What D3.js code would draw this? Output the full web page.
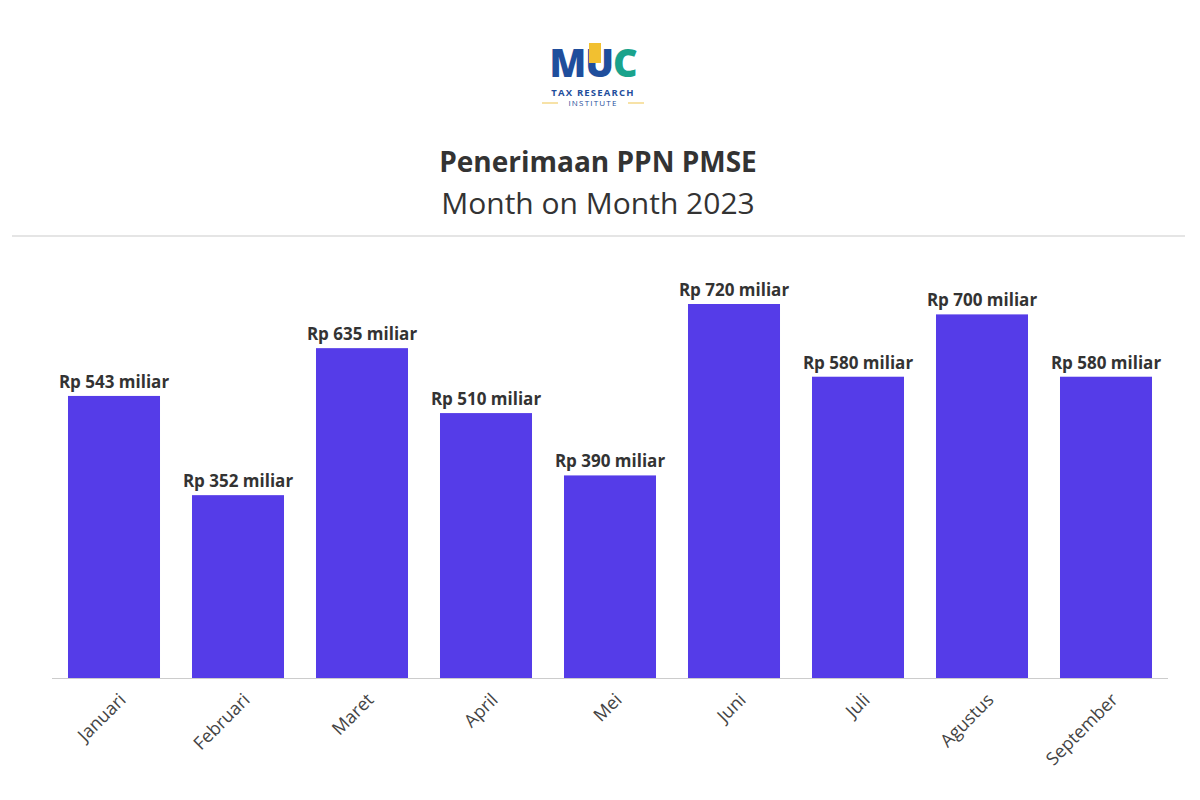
<!DOCTYPE html><html><head><meta charset="utf-8">
<script src="https://cdn.jsdelivr.net/npm/d3@7"></script>
<style>body{margin:0;background:#fff}text{font-family:"Source Sans Pro","Open Sans",Lato,sans-serif}</style></head><body>
<svg id="c" width="1200" height="800"></svg>
<script>
const months=["Januari","Februari","Maret","April","Mei","Juni","Juli","Agustus","September"];
const values=[543,352,635,510,390,720,580,700,580];
const labels=["Rp 543 miliar","Rp 352 miliar","Rp 635 miliar","Rp 510 miliar","Rp 390 miliar","Rp 720 miliar","Rp 580 miliar","Rp 700 miliar","Rp 580 miliar"];
const svg=d3.select("#c");
// logo
const g=svg.append("g");
const t=g.append("text").attr("x",593).attr("y",77).attr("text-anchor","middle").attr("font-size",38).attr("font-weight",900).attr("font-family","Lato").attr("letter-spacing",-1);
t.append("tspan").attr("fill","#1f4e9c").text("MU");
t.append("tspan").attr("fill","#1aa38c").text("C");
g.append("rect").attr("x",589).attr("y",43).attr("width",12).attr("height",20).attr("fill","#f2c030");
g.append("text").attr("x",593).attr("y",96).attr("text-anchor","middle").attr("font-size",9.5).attr("font-weight",700).attr("fill","#1f4e9c").attr("letter-spacing",1.2).text("TAX RESEARCH");
g.append("text").attr("x",593).attr("y",106).attr("text-anchor","middle").attr("font-size",8).attr("fill","#1f4e9c").attr("letter-spacing",1.2).text("INSTITUTE");
g.append("line").attr("x1",542).attr("x2",558).attr("y1",103).attr("y2",103).attr("stroke","#f5d98a").attr("stroke-width",1.5);
g.append("line").attr("x1",628).attr("x2",644).attr("y1",103).attr("y2",103).attr("stroke","#f5d98a").attr("stroke-width",1.5);
svg.append("text").attr("x",598).attr("y",172).attr("text-anchor","middle").attr("font-size",28).attr("font-weight",700).attr("fill","#333").text("Penerimaan PPN PMSE");
svg.append("text").attr("x",598).attr("y",214).attr("text-anchor","middle").attr("font-size",30).attr("fill","#333").text("Month on Month 2023");
svg.append("line").attr("x1",12).attr("x2",1185).attr("y1",236).attr("y2",236).attr("stroke","#ddd").attr("stroke-width",1.5);
const x=d3.scaleBand().domain(months).range([52,1168]).paddingInner(0.258).paddingOuter(0.129);
const y=d3.scaleLinear().domain([0,720]).range([678,304]);
svg.selectAll(".b").data(values).join("rect").attr("x",(d,i)=>x(months[i])).attr("width",x.bandwidth()).attr("y",d=>y(d)).attr("height",d=>678-y(d)).attr("fill","#553ce8");
svg.selectAll(".l").data(values).join("text").attr("x",(d,i)=>x(months[i])+x.bandwidth()/2).attr("y",d=>y(d)-8).attr("text-anchor","middle").attr("font-size",17).attr("font-weight",700).attr("fill","#333").text((d,i)=>labels[i]);
svg.append("line").attr("x1",52).attr("x2",1168).attr("y1",678.5).attr("y2",678.5).attr("stroke","#ccc");
const ax=svg.append("g").attr("transform","translate(0,678)").call(d3.axisBottom(x).tickSize(0).tickPadding(0));
ax.select(".domain").remove();
ax.selectAll("text").attr("font-size",18).attr("fill","#444").attr("text-anchor","end").attr("transform","translate(4,14) rotate(-45)").attr("dy","0.7em");
</script></body></html>
